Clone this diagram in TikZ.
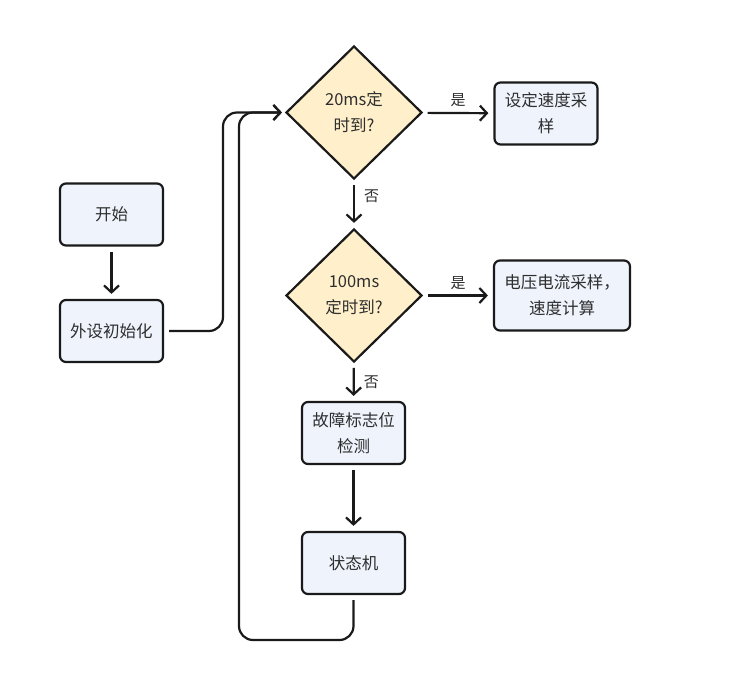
\documentclass[tikz,border=0pt]{standalone}
\usepackage{fontspec}
\setmainfont{Noto Sans CJK SC}
\usetikzlibrary{arrows.meta,shapes.geometric}
\definecolor{boxfill}{HTML}{EEF3FC}
\definecolor{diafill}{HTML}{FFF0CB}
\definecolor{edge}{HTML}{1A1A1A}
\definecolor{txt}{HTML}{2E2E2E}
\tikzset{
  box/.style={draw=edge, line width=2.2pt, fill=boxfill, rounded corners=6pt,
    align=center, text=txt, font=\fontsize{16.5}{26}\selectfont, inner sep=0pt},
  dia/.style={diamond, draw=edge, line width=2.2pt, fill=diafill, align=center,
    text=txt, font=\fontsize{16.5}{26}\selectfont, inner sep=0pt,
    minimum width=136pt, minimum height=133pt},
  conn/.style={draw=edge, line width=2.2pt, shorten >=5pt, shorten <=5pt,
    -{Straight Barb[length=7pt,width=15pt,line width=2.2pt]}},
  lbl/.style={text=txt, font=\fontsize{15}{17}\selectfont, inner sep=0pt}
}
\begin{document}
\begin{tikzpicture}[x=1pt,y=-1pt]
\useasboundingbox (0,0) rectangle (732,693);
\node[box, minimum width=103pt, minimum height=62pt] (start) at (111.5,214.5) {开始};
\node[box, minimum width=103pt, minimum height=62pt] (init) at (111.5,331) {外设初始化};
\node[dia] (d1) at (354,112.5) {20ms定\\时到?};
\node[dia] (d2) at (354,295.5) {100ms\\定时到?};
\node[box, minimum width=103pt, minimum height=62pt] (r1) at (546,113.5) {设定速度采\\样};
\node[box, minimum width=136pt, minimum height=70pt] (r2) at (562,295.5) {电压电流采样，\\速度计算};
\node[box, minimum width=103pt, minimum height=62pt] (fault) at (353.5,433) {故障标志位\\检测};
\node[box, minimum width=103pt, minimum height=62pt] (sm) at (353.5,563) {状态机};

\coordinate (ja) at (223,112.5);
\coordinate (lb) at (239,640);

\path[conn] (start) -- (init);
\path[conn] (d1) -- (d2) node[lbl, pos=0.33, right=9pt] {否};
\path[conn] (d1) -- (r1) node[lbl, midway, above=5pt] {是};
\path[conn] (d2) -- (r2) node[lbl, midway, above=5pt] {是};
\path[conn] (d2) -- (fault) node[lbl, midway, right=9pt] {否};
\path[conn] (fault) -- (sm);
\path[conn, rounded corners=14pt, shorten >=3pt] (init.east) -| (ja) -- (d1.west);
\path[conn, rounded corners=14pt, shorten >=3pt] (sm.south) |- (lb) |- (d1.west);
\end{tikzpicture}
\end{document}
